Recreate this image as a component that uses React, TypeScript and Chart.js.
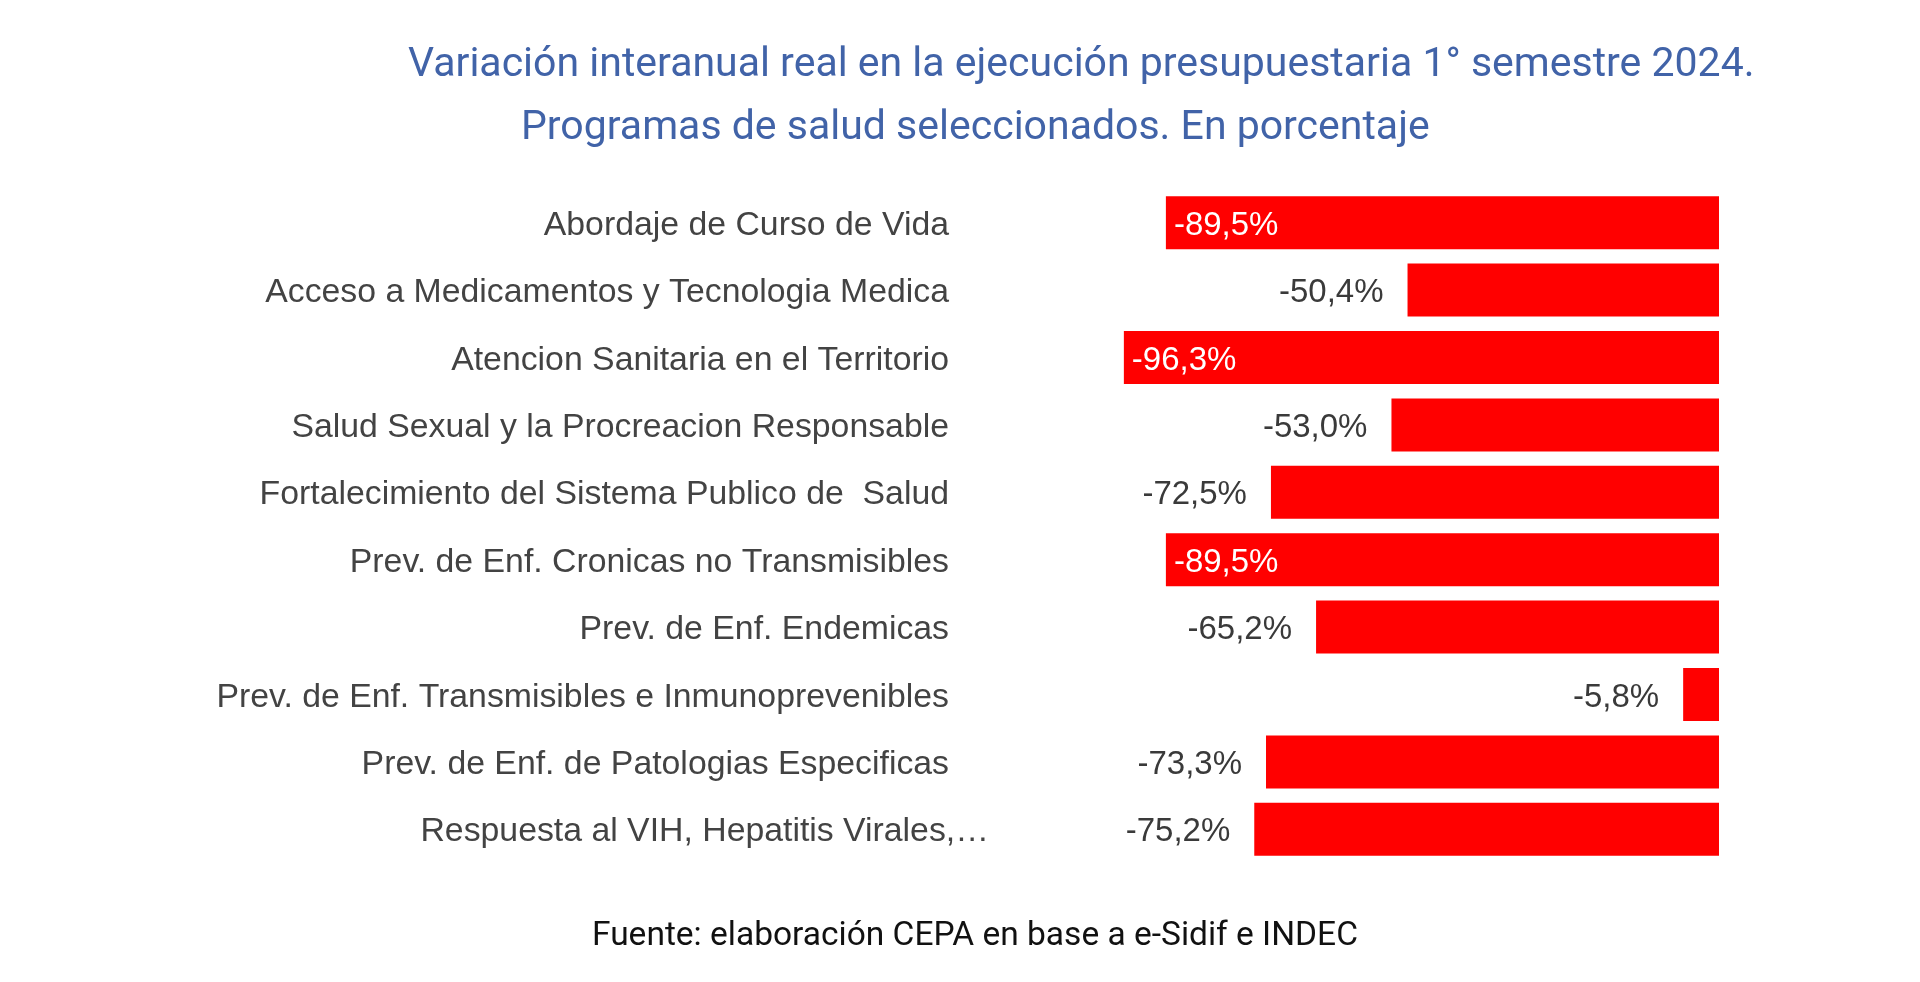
import React, { useEffect, useRef } from "react";
import { Chart, registerables } from "chart.js";

Chart.register(...registerables);

const categories: string[] = [
  "Abordaje de Curso de Vida",
  "Acceso a Medicamentos y Tecnologia Medica",
  "Atencion Sanitaria en el Territorio",
  "Salud Sexual y la Procreacion Responsable",
  "Fortalecimiento del Sistema Publico de  Salud",
  "Prev. de Enf. Cronicas no Transmisibles",
  "Prev. de Enf. Endemicas",
  "Prev. de Enf. Transmisibles e Inmunoprevenibles",
  "Prev. de Enf. de Patologias Especificas",
  "Respuesta al VIH, Hepatitis Virales,…",
];

const values: number[] = [-89.5, -50.4, -96.3, -53.0, -72.5, -89.5, -65.2, -5.8, -73.3, -75.2];

const titleLines: string[] = [
  "Variación interanual real en la ejecución presupuestaria 1° semestre 2024.",
  "Programas de salud seleccionados. En porcentaje",
];

const sourceNote = "Fuente: elaboración CEPA en base a e-Sidif e INDEC";

const formatPct = (v: number) => v.toFixed(1).replace(".", ",") + "%";

const overlayPlugin = {
  id: "overlayText",
  afterDatasetsDraw(chart: any) {
    const ctx = chart.ctx as CanvasRenderingContext2D;
    const meta = chart.getDatasetMeta(0);
    const yScale = chart.scales.y;
    const area = chart.chartArea;
    ctx.save();
    ctx.textBaseline = "alphabetic";
    categories.forEach((c, i) => {
      const y = yScale.getPixelForValue(i);
      const base = y + 12;
      ctx.font = '33.8px "Liberation Sans", Arial, sans-serif';
      ctx.fillStyle = "#434343";
      ctx.textAlign = "right";
      const shift = c.endsWith("…") ? 40 : 0;
      ctx.fillText(c, area.left - 152 + shift, base);
      const bar = meta.data[i];
      const label = formatPct(values[i]);
      ctx.font = '33px "Liberation Sans", Arial, sans-serif';
      if (values[i] < -80) {
        ctx.fillStyle = "#ffffff";
        ctx.textAlign = "left";
        ctx.fillText(label, bar.x + 8, base);
      } else {
        ctx.fillStyle = "#3a3a3a";
        ctx.textAlign = "right";
        ctx.fillText(label, bar.x - 24, base);
      }
    });
    ctx.textAlign = "left";
    ctx.font = '41px Roboto, "Noto Sans", sans-serif';
    ctx.fillStyle = "#4163a8";
    ctx.fillText(titleLines[0], 408, 76);
    ctx.fillText(titleLines[1], 521, 139);
    ctx.font = '33.5px Roboto, "Noto Sans", sans-serif';
    ctx.fillStyle = "#111111";
    ctx.fillText(sourceNote, 592, 945);
    ctx.restore();
  },
};

export default function App() {
  const canvasRef = useRef<HTMLCanvasElement | null>(null);

  useEffect(() => {
    if (!canvasRef.current) return;
    const chart = new Chart(canvasRef.current, {
      type: "bar",
      data: {
        labels: categories,
        datasets: [
          {
            data: values,
            backgroundColor: "#ff0000",
            borderWidth: 0,
            barPercentage: 0.786,
            categoryPercentage: 1,
          },
        ],
      },
      options: {
        indexAxis: "y",
        responsive: false,
        maintainAspectRatio: false,
        devicePixelRatio: 1,
        animation: false,
        layout: {
          padding: { left: 1101, right: 201, top: 189, bottom: 119 },
        },
        scales: {
          x: { display: false, min: -100, max: 0 },
          y: { display: false },
        },
        plugins: {
          legend: { display: false },
          tooltip: { enabled: false },
          title: { display: false },
        },
      },
      plugins: [overlayPlugin],
    });
    return () => chart.destroy();
  }, []);

  return (
    <div style={{ position: "fixed", left: 0, top: 0, width: 1920, height: 982, background: "#ffffff" }}>
      <canvas ref={canvasRef} width={1920} height={982} style={{ display: "block" }} />
    </div>
  );
}
